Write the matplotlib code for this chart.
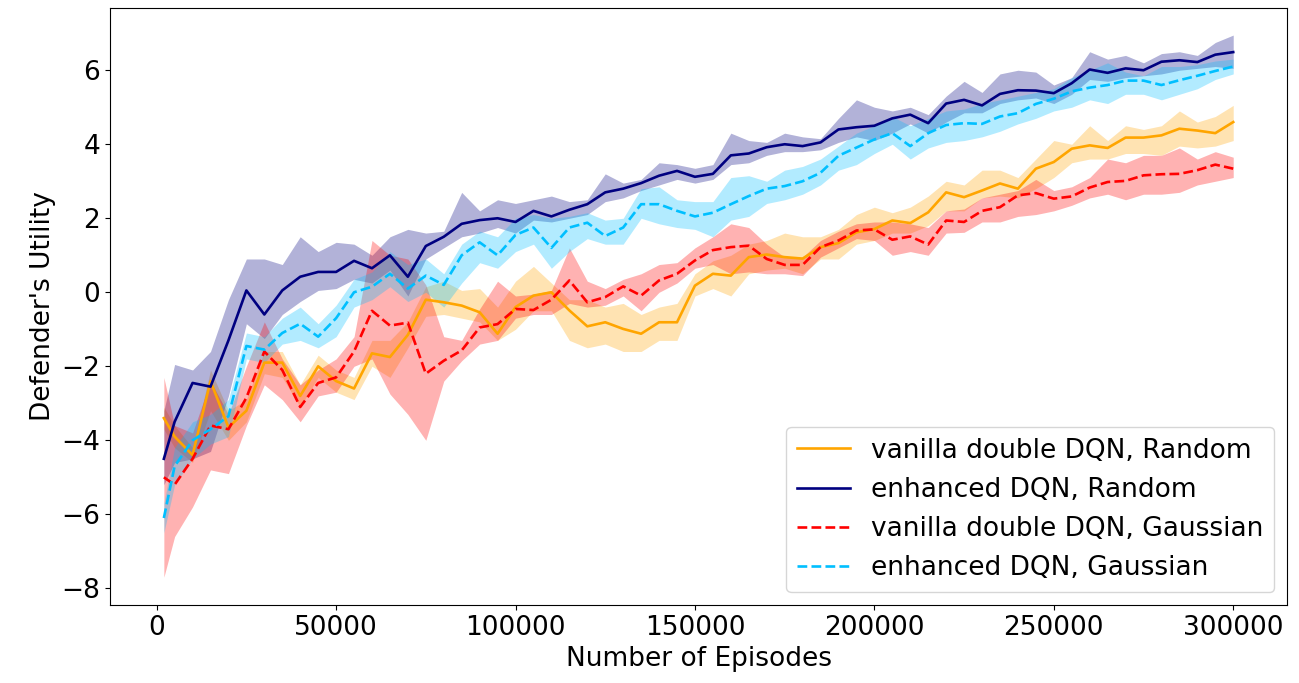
import numpy as np
import matplotlib
matplotlib.use("Agg")
import matplotlib.pyplot as plt

# episodes (read every 5000 from the picture)
episodes = [2000] + list(range(5000, 300001, 5000))

# enhanced DQN, Random
enh_rand = [-4.5, -3.5, -2.45, -2.55, -1.3, 0.05, -0.6, 0.05, 0.42, 0.55,
            0.55, 0.85, 0.65, 1.0, 0.42, 1.25, 1.5, 1.85, 1.95, 2.0,
            1.9, 2.2, 2.05, 2.23, 2.38, 2.7, 2.8, 2.95, 3.15, 3.28,
            3.12, 3.2, 3.7, 3.75, 3.92, 4.0, 3.95, 4.05, 4.4, 4.46,
            4.5, 4.7, 4.8, 4.57, 5.1, 5.2, 5.05, 5.36, 5.46, 5.45,
            5.38, 5.65, 6.02, 5.93, 6.05, 6.0, 6.23, 6.27, 6.22, 6.42, 6.49]
enh_rand_hi = [-3.2, -1.95, -2.1, -1.6, -0.2, 0.9, 0.9, 0.75, 1.5, 1.1,
               1.35, 1.3, 1.0, 1.5, 1.7, 1.6, 1.65, 2.7, 2.2, 2.5,
               2.4, 2.5, 2.6, 2.45, 2.5, 3.2, 2.95, 3.05, 3.5, 3.45,
               3.35, 3.45, 4.3, 4.1, 4.05, 4.3, 4.2, 4.15, 4.7, 5.2,
               5.0, 4.9, 5.0, 4.8, 5.3, 5.7, 5.4, 5.9, 6.0, 5.95,
               5.6, 5.8, 6.5, 6.3, 6.4, 6.2, 6.45, 6.5, 6.4, 6.75, 6.95]
enh_rand_lo = [-5.2, -4.6, -4.5, -4.3, -2.8, -0.85, -1.25, -0.6, -0.25, 0.05,
               0.1, 0.35, 0.25, 0.6, -0.1, 0.9, 1.2, 1.5, 1.6, 1.75,
               1.6, 1.95, 1.9, 2.0, 2.1, 2.45, 2.55, 2.75, 2.9, 3.05,
               2.95, 3.05, 3.45, 3.5, 3.7, 3.8, 3.8, 3.85, 4.05, 4.2,
               4.1, 4.3, 4.55, 4.3, 4.6, 4.85, 4.85, 5.1, 5.2, 5.25,
               5.1, 5.35, 5.75, 5.7, 5.8, 5.85, 5.9, 6.0, 6.05, 6.1, 6.05]

# enhanced DQN, Gaussian
enh_gaus = [-6.1, -4.7, -4.0, -3.7, -3.35, -1.45, -1.55, -1.1, -0.85, -1.2,
            -0.7, 0.0, 0.15, 0.5, 0.1, 0.45, 0.2, 1.0, 1.35, 1.0,
            1.55, 1.75, 1.2, 1.75, 1.88, 1.52, 1.75, 2.38, 2.38, 2.2,
            2.05, 2.15, 2.38, 2.6, 2.8, 2.87, 3.0, 3.23, 3.69, 3.91,
            4.13, 4.3, 3.95, 4.3, 4.52, 4.57, 4.55, 4.75, 4.84, 5.09,
            5.23, 5.43, 5.53, 5.6, 5.72, 5.72, 5.6, 5.73, 5.85, 5.98, 6.1]
enh_gaus_hi = [-5.7, -4.2, -3.5, -3.3, -2.9, -1.1, -1.2, -0.7, -0.4, -0.85,
               -0.35, 0.35, 0.55, 1.1, 0.75, 0.9, 0.5, 1.3, 1.65, 1.5,
               2.0, 2.1, 2.0, 2.05, 2.15, 1.95, 2.0, 2.8, 2.85, 2.5,
               2.45, 2.45, 3.1, 3.15, 3.0, 3.3, 3.4, 3.6, 3.95, 4.3,
               4.5, 4.75, 4.5, 4.7, 4.9, 4.95, 5.1, 5.2, 5.3, 5.4,
               5.5, 5.8, 6.0, 6.2, 5.95, 5.85, 6.1, 6.1, 6.15, 6.25, 6.3]
enh_gaus_lo = [-6.5, -5.2, -4.5, -4.1, -3.9, -1.8, -1.9, -1.4, -1.3, -1.5,
               -1.2, -0.4, -0.2, 0.15, -0.25, 0.0, -0.4, 0.25, 0.8, 0.65,
               1.1, 1.3, 0.65, 1.1, 1.45, 1.3, 1.3, 2.0, 1.85, 1.75,
               1.7, 1.5, 1.95, 2.05, 2.4, 2.5, 2.65, 2.9, 3.3, 3.45,
               3.75, 4.0, 3.6, 3.9, 4.05, 4.1, 4.2, 4.35, 4.55, 4.7,
               4.9, 5.0, 5.2, 5.1, 5.35, 5.35, 5.2, 5.35, 5.5, 5.75, 5.9]

# vanilla double DQN, Random
van_rand = [-3.4, -3.9, -4.4, -2.4, -3.65, -3.2, -1.9, -1.9, -2.8, -2.0,
            -2.4, -2.6, -1.65, -1.75, -1.15, -0.2, -0.27, -0.36, -0.54, -1.12,
            -0.4, -0.09, 0.0, -0.49, -0.92, -0.81, -0.99, -1.12, -0.81, -0.81,
            0.18, 0.5, 0.45, 0.95, 1.02, 0.95, 0.91, 1.22, 1.33, 1.62,
            1.71, 1.94, 1.87, 2.16, 2.7, 2.57, 2.75, 2.94, 2.8, 3.34,
            3.52, 3.88, 3.97, 3.9, 4.18, 4.18, 4.24, 4.42, 4.37, 4.3, 4.6]
van_rand_hi = [-3.1, -3.6, -4.2, -2.1, -3.2, -2.9, -1.6, -1.6, -2.5, -1.7,
               -2.1, -2.3, -1.3, -1.3, -0.8, 0.15, 0.3, 0.05, 0.1, -0.4,
               0.3, 0.7, 0.25, -0.2, -0.2, -0.4, -0.3, -0.6, -0.4, -0.3,
               0.5, 0.85, 1.0, 1.3, 1.4, 1.6, 1.5, 1.5, 1.7, 2.1,
               2.3, 2.15, 2.3, 2.6, 3.0, 2.9, 3.3, 3.3, 3.1, 3.6,
               4.1, 4.0, 4.5, 4.1, 4.5, 4.4, 4.5, 4.9, 4.6, 4.75, 5.05]
van_rand_lo = [-3.7, -4.2, -4.6, -3.2, -4.0, -3.5, -2.2, -2.3, -3.1, -2.3,
               -2.7, -2.9, -2.0, -2.3, -1.5, -0.65, -0.6, -0.7, -0.8, -1.3,
               -1.0, -0.5, -0.5, -1.3, -1.5, -1.4, -1.6, -1.6, -1.3, -1.3,
               -0.1, 0.1, -0.1, 0.5, 0.6, 0.65, 0.5, 0.9, 0.9, 1.3,
               1.4, 1.6, 1.6, 1.8, 2.2, 2.2, 2.55, 2.6, 2.55, 2.8,
               3.1, 3.5, 3.6, 3.6, 3.75, 3.75, 3.7, 3.95, 3.9, 3.95, 4.1]

# vanilla double DQN, Gaussian
van_gaus = [-5.0, -5.2, -4.5, -3.6, -3.7, -2.85, -1.6, -2.1, -3.1, -2.45,
            -2.3, -1.6, -0.5, -0.9, -0.82, -2.2, -1.85, -1.57, -0.95, -0.86,
            -0.45, -0.48, -0.2, 0.32, -0.27, -0.13, 0.16, -0.09, 0.32, 0.5,
            0.86, 1.14, 1.22, 1.26, 0.9, 0.74, 0.74, 1.22, 1.4, 1.67,
            1.7, 1.42, 1.51, 1.29, 1.94, 1.9, 2.2, 2.3, 2.62, 2.68,
            2.53, 2.59, 2.83, 2.98, 3.01, 3.16, 3.19, 3.2, 3.3, 3.45, 3.34]
van_gaus_hi = [-2.3, -3.6, -3.8, -2.4, -3.3, -2.0, -0.8, -1.8, -2.5, -2.1,
               -1.8, -1.2, 1.4, 1.0, 0.9, 0.2, -1.2, -1.3, -0.45, 0.3,
               -0.1, -0.05, 0.05, 1.2, 0.3, 0.1, 0.35, 0.5, 0.75, 0.8,
               1.2, 1.5, 1.85, 1.75, 1.3, 0.95, 0.95, 1.4, 1.65, 1.85,
               1.9, 1.9, 1.85, 1.75, 2.2, 2.25, 2.55, 2.65, 2.75, 3.05,
               2.75, 2.85, 3.1, 3.6, 3.5, 3.7, 3.7, 3.9, 3.6, 3.8, 3.65]
van_gaus_lo = [-7.7, -6.6, -5.8, -4.8, -4.9, -3.6, -2.5, -2.9, -3.5, -2.8,
               -2.7, -2.0, -1.8, -2.75, -3.3, -4.0, -2.4, -1.85, -1.4, -1.3,
               -0.7, -0.6, -0.6, -0.3, -0.4, -0.35, -0.1, -0.5, 0.0, 0.25,
               0.65, 0.75, 0.5, 0.55, 0.5, 0.5, 0.45, 0.95, 1.2, 1.45,
               1.4, 1.0, 1.1, 1.0, 1.6, 1.62, 1.9, 1.9, 2.05, 2.1,
               2.2, 2.35, 2.55, 2.65, 2.5, 2.65, 2.65, 2.7, 2.9, 3.0, 3.1]

labels = ["vanilla double DQN, Random", "enhanced DQN, Random",
          "vanilla double DQN, Gaussian", "enhanced DQN, Gaussian"]
colors = ["orange", "navy", "red", "deepskyblue"]
styles = ["-", "-", "--", "--"]

fig = plt.figure(figsize=(12.99, 6.83), dpi=100)
ax = fig.add_axes([0.0847, 0.1142, 0.9061, 0.874])

series = [(van_rand, van_rand_lo, van_rand_hi),
          (enh_rand, enh_rand_lo, enh_rand_hi),
          (van_gaus, van_gaus_lo, van_gaus_hi),
          (enh_gaus, enh_gaus_lo, enh_gaus_hi)]

for (mean, lo, hi), lab, c, ls in zip(series, labels, colors, styles):
    ax.plot(episodes, mean, ls, color=c, lw=1.9, label=lab)
    ax.fill_between(episodes, lo, hi, color=c, alpha=0.3, lw=0)

ax.set_xlim(-13000, 315000)
ax.set_ylim(-8.45, 7.68)
ax.set_yticks([-8, -6, -4, -2, 0, 2, 4, 6])
ax.tick_params(labelsize=19)
ax.set_xlabel("Number of Episodes", fontsize=19)
ax.set_ylabel("Defender's Utility", fontsize=19)
ax.legend(loc="lower right", fontsize=19)

fig.savefig("out.png", dpi=100)
